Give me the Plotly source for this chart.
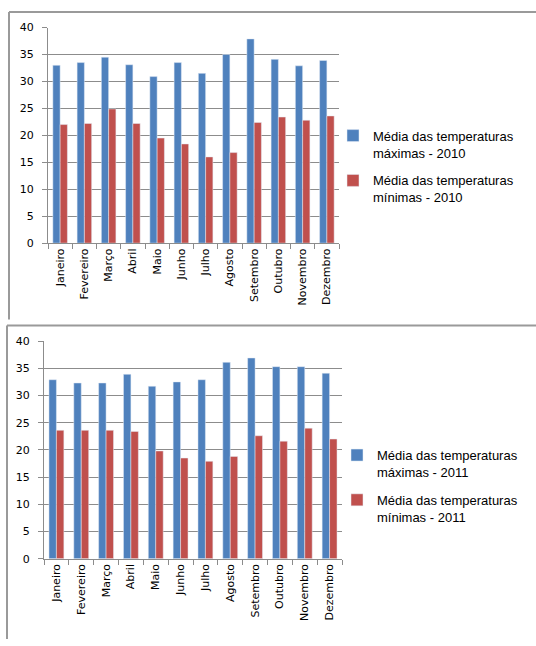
import plotly.graph_objects as go

# Monthly averages of daily maximum / minimum temperatures (°C)
meses = ["Janeiro", "Fevereiro", "Março", "Abril", "Maio", "Junho",
         "Julho", "Agosto", "Setembro", "Outubro", "Novembro", "Dezembro"]

max_2010 = [33.0, 33.5, 34.5, 33.1, 30.9, 33.5, 31.5, 35.0, 37.9, 34.1, 32.9, 33.9]
min_2010 = [22.0, 22.2, 24.9, 22.2, 19.5, 18.4, 16.0, 16.8, 22.4, 23.4, 22.8, 23.6]

max_2011 = [32.9, 32.3, 32.3, 33.9, 31.7, 32.5, 32.9, 36.1, 36.9, 35.3, 35.3, 34.1]
min_2011 = [23.6, 23.6, 23.6, 23.4, 19.8, 18.5, 17.9, 18.8, 22.6, 21.6, 24.0, 22.0]

yticks = [0, 5, 10, 15, 20, 25, 30, 35, 40]

nome_max = "Média das temperaturas<br>máximas - {}"
nome_min = "Média das temperaturas<br>mínimas - {}"

AZUL = "#4F81BD"
VERMELHO = "#C0504D"
GRADE = "#8C8C8C"

W, H = 536, 646


def px_x(v):
    return v / W


def px_y(v):
    return 1 - v / H


fig = go.Figure()

fig.add_trace(go.Bar(x=meses, y=max_2010, name=nome_max.format(2010),
                     marker_color=AZUL, xaxis="x", yaxis="y",
                     legend="legend", legendgroup="a"))
fig.add_trace(go.Bar(x=meses, y=min_2010, name=nome_min.format(2010),
                     marker_color=VERMELHO, xaxis="x", yaxis="y",
                     legend="legend", legendgroup="b"))
fig.add_trace(go.Bar(x=meses, y=max_2011, name=nome_max.format(2011),
                     marker_color=AZUL, xaxis="x2", yaxis="y2",
                     legend="legend2", legendgroup="c"))
fig.add_trace(go.Bar(x=meses, y=min_2011, name=nome_min.format(2011),
                     marker_color=VERMELHO, xaxis="x2", yaxis="y2",
                     legend="legend2", legendgroup="d"))

eixo_x = dict(
    type="category", tickangle=-90, ticks="outside", tickson="boundaries",
    ticklen=5, tickcolor=GRADE, showline=True, linecolor=GRADE,
    linewidth=1, showgrid=False,
    tickfont=dict(family="DejaVu Sans", size=11, color="#000000"),
)
eixo_y = dict(
    range=[0, 40], tickvals=yticks, ticks="outside", ticklen=5,
    tickcolor=GRADE, showline=True, linecolor=GRADE, linewidth=1,
    showgrid=True, gridcolor=GRADE, gridwidth=1, zeroline=False,
    ticklabelstandoff=6,
    tickfont=dict(family="DejaVu Sans", size=11, color="#000000"),
)

legenda = dict(
    font=dict(family="Liberation Sans", size=13, color="#000000"),
    bgcolor="rgba(0,0,0,0)", borderwidth=0, valign="top",
    tracegroupgap=8, xanchor="left", yanchor="top",
)

fig.update_layout(
    width=W, height=H,
    margin=dict(l=0, r=0, t=0, b=0),
    paper_bgcolor="white", plot_bgcolor="white",
    barmode="group", bargap=0.4, bargroupgap=0,
    xaxis=dict(eixo_x, domain=[px_x(48), px_x(339)], anchor="y"),
    yaxis=dict(eixo_y, domain=[px_y(242), px_y(22)], anchor="x"),
    xaxis2=dict(eixo_x, domain=[px_x(44), px_x(342)], anchor="y2"),
    yaxis2=dict(eixo_y, domain=[px_y(564), px_y(342)], anchor="x2"),
    legend=dict(legenda, x=px_x(333), y=px_y(117)),
    legend2=dict(legenda, x=px_x(337), y=px_y(443)),
)

# Chart-area frames (top and left edges)
borda = dict(color="#9A9A9A", width=2)
for x0, y0, y1 in [(9, 6, 320), (7, 326, 646)]:
    fig.add_shape(type="line", xref="paper", yref="paper",
                  x0=px_x(x0), x1=1, y0=px_y(y0), y1=px_y(y0), line=borda)
    fig.add_shape(type="line", xref="paper", yref="paper",
                  x0=px_x(x0), x1=px_x(x0), y0=px_y(y0), y1=px_y(y1),
                  line=borda)

fig.write_html("out.html")
